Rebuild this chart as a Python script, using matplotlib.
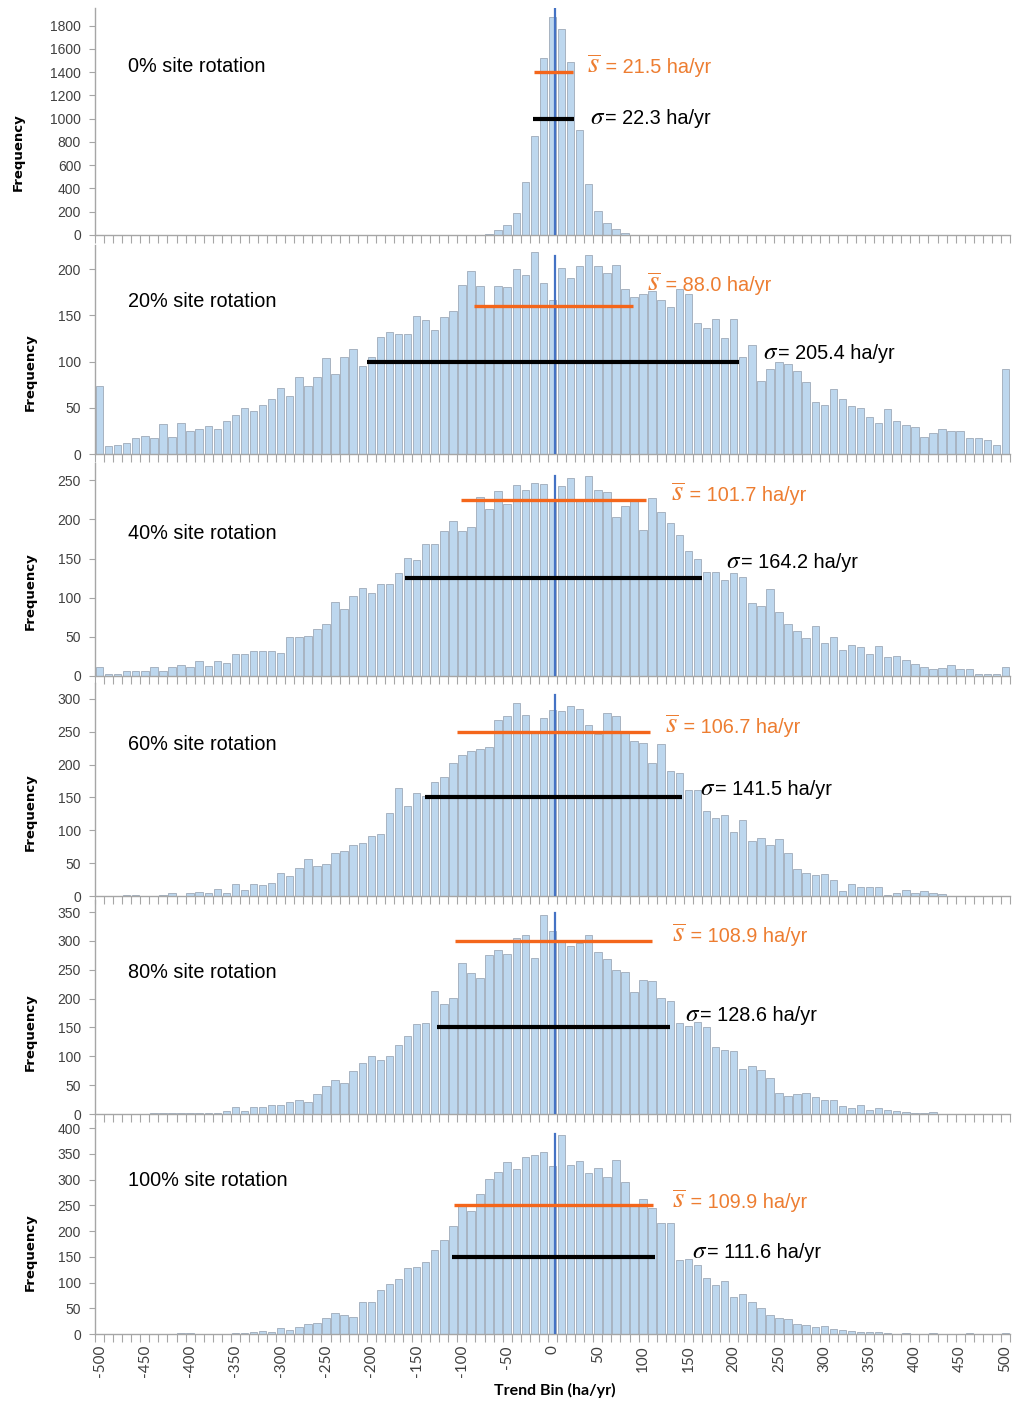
import matplotlib
matplotlib.use("Agg")
import matplotlib.pyplot as plt
import numpy as np

# Frequency of trend bins for six site-rotation scenarios (stacked panels)

plt.rcParams['font.family'] = ['Liberation Sans', 'DejaVu Sans']
plt.rcParams['mathtext.fontset'] = 'stix'

bins = np.arange(-500, 501, 10)        # bin centres, ha/yr
label_bins = np.arange(-500, 501, 50)  # labelled bins on bottom axis

titles = ['0% site rotation', '20% site rotation', '40% site rotation',
          '60% site rotation', '80% site rotation', '100% site rotation']

freq_0 = [0, 0, 0, 0, 0, 0, 0, 0, 0, 0,
          0, 0, 0, 0, 0, 0, 0, 0, 0, 0,
          0, 0, 0, 0, 0, 0, 0, 0, 0, 0,
          0, 0, 0, 0, 0, 0, 0, 0, 0, 0,
          0, 0, 2, 10, 43, 89, 185, 452, 850, 1519,
          1875, 1768, 1487, 899, 438, 208, 99, 48, 13, 3,
          0, 0, 0, 0, 0, 0, 0, 0, 0, 0,
          0, 0, 0, 0, 0, 0, 0, 0, 0, 0,
          0, 0, 0, 0, 0, 0, 0, 0, 0, 0,
          0, 0, 0, 0, 0, 0, 0, 0, 0, 0,
          0]
freq_20 = [74, 9, 10, 12, 17, 19, 17, 32, 18, 33,
           25, 27, 30, 27, 36, 42, 50, 47, 53, 60,
           71, 63, 83, 74, 83, 104, 87, 105, 114, 95,
           105, 126, 132, 130, 130, 149, 145, 134, 148, 155,
           183, 198, 182, 160, 182, 181, 200, 194, 218, 185,
           166, 201, 190, 203, 215, 203, 196, 204, 178, 170,
           173, 176, 166, 159, 178, 173, 142, 136, 146, 125,
           146, 105, 118, 79, 92, 100, 97, 90, 78, 56,
           53, 70, 60, 52, 50, 40, 33, 49, 36, 31,
           29, 18, 23, 27, 25, 25, 17, 17, 15, 10,
           92]
freq_40 = [11, 3, 3, 6, 7, 6, 11, 7, 11, 14,
           12, 19, 13, 19, 16, 28, 28, 32, 32, 32,
           30, 50, 50, 51, 60, 67, 94, 85, 102, 112,
           106, 118, 118, 131, 151, 148, 168, 168, 185, 198,
           185, 190, 228, 213, 236, 220, 244, 237, 247, 245,
           224, 242, 253, 224, 256, 237, 235, 203, 217, 223,
           186, 227, 210, 196, 180, 160, 149, 133, 133, 122,
           131, 127, 93, 90, 111, 82, 67, 58, 48, 64,
           42, 50, 33, 39, 37, 28, 38, 24, 26, 20,
           15, 12, 9, 10, 14, 9, 9, 2, 3, 2,
           11]
freq_60 = [0, 0, 0, 2, 2, 0, 0, 1, 5, 0,
           5, 6, 5, 11, 5, 18, 9, 19, 16, 20,
           35, 30, 42, 56, 45, 48, 66, 69, 78, 80,
           91, 95, 127, 164, 137, 156, 152, 174, 181, 203,
           215, 221, 223, 226, 267, 274, 293, 276, 250, 271,
           283, 282, 289, 285, 260, 246, 278, 274, 250, 236,
           233, 202, 231, 190, 187, 161, 162, 129, 118, 123,
           98, 115, 84, 88, 77, 86, 65, 41, 35, 32,
           33, 25, 8, 19, 14, 13, 13, 2, 4, 9,
           5, 7, 4, 3, 0, 0, 0, 0, 0, 0,
           0]
freq_80 = [0, 0, 0, 0, 0, 0, 2, 2, 2, 2,
           2, 2, 2, 2, 5, 12, 6, 13, 13, 16,
           16, 21, 24, 21, 35, 49, 59, 54, 75, 89,
           100, 93, 101, 120, 136, 156, 158, 213, 190, 201,
           261, 245, 235, 275, 285, 277, 305, 310, 270, 345,
           318, 300, 291, 297, 310, 281, 268, 250, 247, 212,
           233, 231, 201, 196, 157, 152, 159, 151, 117, 111,
           110, 78, 84, 76, 62, 36, 31, 34, 37, 30,
           25, 25, 14, 10, 16, 7, 11, 7, 5, 3,
           2, 2, 4, 0, 0, 0, 0, 0, 0, 0,
           0]
freq_100 = [0, 0, 0, 0, 0, 0, 0, 0, 0, 1,
            2, 0, 0, 0, 0, 2, 2, 4, 6, 3,
            12, 8, 13, 20, 21, 31, 41, 37, 33, 63,
            62, 85, 97, 107, 128, 130, 140, 163, 182, 210,
            252, 240, 273, 302, 314, 334, 320, 344, 347, 353,
            326, 387, 328, 336, 313, 322, 306, 339, 295, 252,
            262, 245, 216, 216, 144, 146, 134, 109, 96, 103,
            72, 78, 62, 51, 37, 31, 29, 20, 17, 13,
            15, 10, 8, 6, 4, 3, 4, 2, 0, 2,
            0, 0, 2, 0, 0, 0, 2, 0, 0, 0,
            2]
freqs = [freq_0, freq_20, freq_40, freq_60, freq_80, freq_100]

s_bar = [21.5, 88.0, 101.7, 106.7, 108.9, 109.9]
sigma = [22.3, 205.4, 164.2, 141.5, 128.6, 111.6]
s_level = [1400, 160, 225, 250, 300, 250]
sigma_level = [1000, 100, 125, 150, 150, 150]
vline_top = [1950, 214, 256, 305, 348, 389]
y_max = [1952, 226, 272, 324, 371, 416]
y_tick_max = [1800, 200, 250, 300, 350, 400]
y_tick_step = [200, 50, 50, 50, 50, 50]

# layout in pixels of the 1016 x 1404 image
W, H = 1016, 1404
left_px, right_px = 95, 1010
top_px = [8, 245, 463, 683, 900, 1120]
zero_px = [235, 454, 676, 896, 1114, 1334]
title_base = [72, 307, 539, 750, 978, 1186]
sbar_pos = [(587, 73), (647, 291), (671, 501), (665, 733), (672, 942), (672, 1208)]
sig_pos = [(590, 124), (763, 359), (726, 568), (700, 795), (685, 1021), (692, 1258)]
freq_pos = [(18, 152), (30, 372), (30, 591), (30, 812), (30, 1032), (30, 1252)]

BAR = '#BDD7EE'
BAR_EDGE = '#A7B3C1'
AXIS = '#A6A6A6'
BLUE = '#4472C4'
ORANGE_LINE = '#F4661B'
ORANGE_TEXT = '#ED7D31'
centre = 1
vline_x = 3

fig = plt.figure(figsize=(W / 100, H / 100), dpi=100)


def fx(x):
    return x / W


def fy(y):
    return 1 - y / H


for k in range(6):
    ax = fig.add_axes([fx(left_px), fy(zero_px[k]), (right_px - left_px) / W,
                       (zero_px[k] - top_px[k]) / H])
    ax.bar(bins, freqs[k], width=8.2, color=BAR, edgecolor=BAR_EDGE, linewidth=0.7, zorder=2)
    ax.plot([vline_x, vline_x], [0, vline_top[k]], color=BLUE, lw=1.6, zorder=3)
    ax.plot([centre - s_bar[k], centre + s_bar[k]], [s_level[k], s_level[k]],
            color=ORANGE_LINE, lw=2.4, solid_capstyle='butt', zorder=4)
    ax.plot([centre - sigma[k], centre + sigma[k]], [sigma_level[k], sigma_level[k]],
            color='black', lw=3, solid_capstyle='butt', zorder=4)

    ax.set_xlim(-505, 505)
    ax.set_ylim(0, y_max[k])
    ax.set_yticks(np.arange(0, y_tick_max[k] + 1, y_tick_step[k]))
    ax.set_xticks(np.arange(-505, 506, 10))
    ax.tick_params(axis='x', which='major', length=6, width=0.8, color=AXIS, labelbottom=False)
    ax.tick_params(axis='y', length=4, width=0.8, color=AXIS, labelsize=10,
                   labelcolor='#404040', pad=6)
    for side in ['top', 'right']:
        ax.spines[side].set_visible(False)
    for side in ['left', 'bottom']:
        ax.spines[side].set_color(AXIS)
        ax.spines[side].set_linewidth(1.0)
    ax.set_facecolor('none')

    if k == 5:
        ax.set_xticks(label_bins, minor=True)
        ax.set_xticklabels([str(v) for v in label_bins], minor=True, rotation=90,
                           fontfamily='Lato', fontsize=11, color='#404040')
        ax.tick_params(axis='x', which='minor', length=0, pad=8)

    fig.text(fx(128), fy(title_base[k]), titles[k], fontsize=14.3, va='baseline')

    # statistic labels: serif italic symbol followed by plain text on the same baseline
    sym = ax.text(fx(sbar_pos[k][0]), fy(sbar_pos[k][1]), r'$\overline{s}$',
                  transform=fig.transFigure, fontsize=21, color=ORANGE_TEXT, va='baseline')
    ax.annotate(' = %.1f ha/yr' % s_bar[k], xy=(1, fy(sbar_pos[k][1])),
                xycoords=(sym, 'figure fraction'), va='baseline',
                fontsize=14.3, color=ORANGE_TEXT, annotation_clip=False)
    sg = ax.text(fx(sig_pos[k][0]), fy(sig_pos[k][1]), r'$\sigma$',
                 transform=fig.transFigure, fontsize=18, color='black', va='baseline')
    ax.annotate('= %.1f ha/yr' % sigma[k], xy=(1, fy(sig_pos[k][1])),
                xycoords=(sg, 'figure fraction'), va='baseline',
                fontsize=14.3, color='black', annotation_clip=False)

    fig.text(fx(freq_pos[k][0]), fy(freq_pos[k][1]), 'Frequency', rotation=90,
             ha='center', va='center', fontsize=9.5, fontweight='bold',
             fontfamily='DejaVu Sans')

fig.text(fx(555), fy(1390), 'Trend Bin (ha/yr)', ha='center', va='center',
         fontsize=11.5, fontweight='bold', fontfamily='Lato')

fig.savefig('out.png', dpi=100)
